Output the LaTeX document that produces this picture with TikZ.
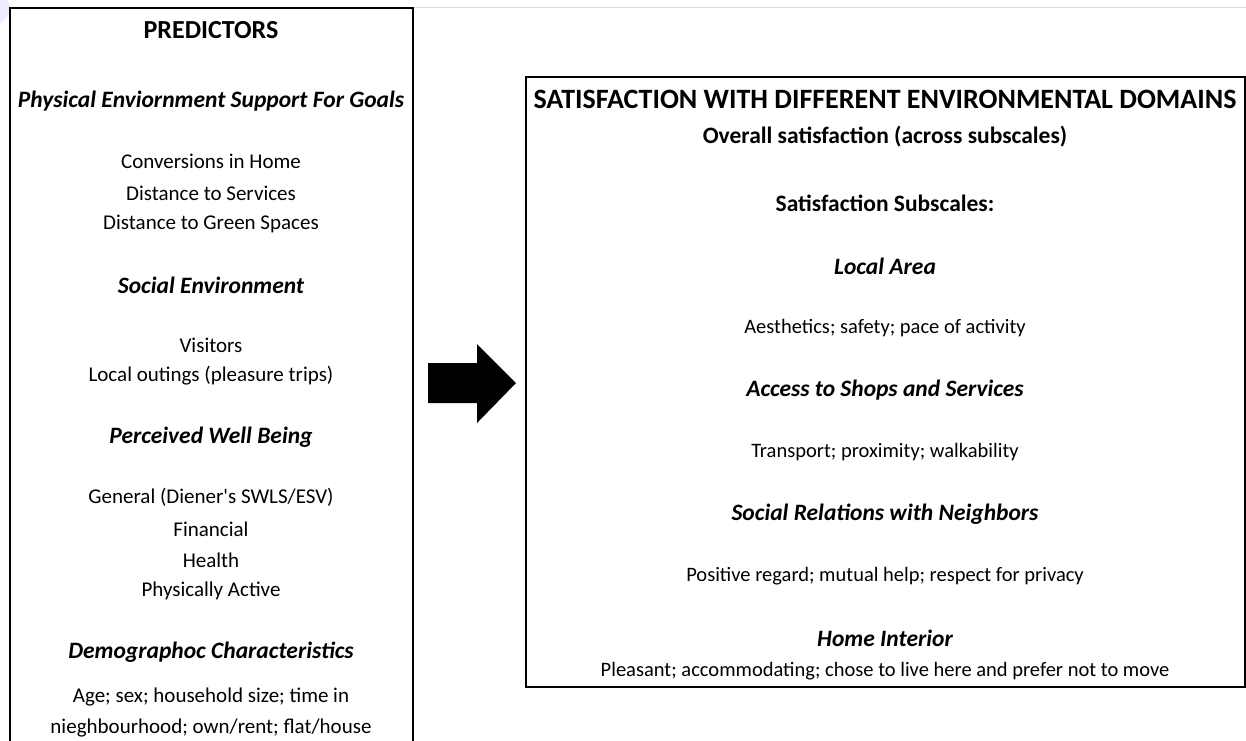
\documentclass[tikz,border=0pt]{standalone}
\usepackage{fontspec}
\setmainfont{Carlito}
\begin{document}
\begin{tikzpicture}[x=1pt,y=-1pt,
  boxline/.style={line width=2pt,draw=black},
  body/.style={inner sep=0pt,anchor=center,font=\fontsize{21}{31}\selectfont,align=center},
  rbody/.style={inner sep=0pt,anchor=center,font=\fontsize{20.5}{24}\selectfont,align=center},
  head/.style={inner sep=0pt,anchor=center,font=\fontsize{23.5}{27}\selectfont\bfseries\itshape},
  bold/.style={inner sep=0pt,anchor=center,font=\fontsize{23.5}{27}\selectfont\bfseries},
  title/.style={inner sep=0pt,anchor=center,font=\fontsize{28}{32}\selectfont\bfseries}]
\useasboundingbox (0,0) rectangle (1246,740);
\fill[white] (0,0) rectangle (1246,740);
% faint artifact top-left
\fill[blue!7] (-6,8) circle (16);
% faint gray line at top
\draw[gray!30,line width=1pt] (412,7.5) -- (1246,7.5);
% left box (open at bottom)
\coordinate (lbl) at (10,742);
\coordinate (ltl) at (10,7.5);
\coordinate (ltr) at (412.5,7.5);
\coordinate (lbr) at (412.5,742);
\draw[boxline] (lbl) -- (ltl) -- (ltr) -- (lbr);
% right box
\draw[boxline] (526,77) rectangle (1244.5,686.5);
% arrow
\fill[black] (428,363) -- (477,363) -- (477,344) -- (516,383) -- (477,423) -- (477,403) -- (428,403) -- cycle;

% left column
\node[title,font=\fontsize{26}{30}\selectfont\bfseries] (pred) at (211,30) {PREDICTORS};
\node[head] (h1) at (211,101) {Physical Enviornment Support For Goals};
\node[body] (l1) at (211,161) {Conversions in Home};
\node[body] (l2) at (211,193) {Distance to Services};
\node[body] (l3) at (211,224) {Distance to Green Spaces};
\node[head] (h2) at (211,285) {Social Environment};
\node[body] (l4) at (211,345) {Visitors};
\node[body] (l5) at (211,376) {Local outings (pleasure trips)};
\node[head] (h3) at (211,437) {Perceived Well Being};
\node[body] (l6) at (211,497) {General (Diener\textquotesingle s SWLS/ESV)};
\node[body] (l7) at (211,529) {Financial};
\node[body] (l8) at (211,560) {Health};
\node[body] (l9) at (211,591) {Physically Active};
\node[head] (h4) at (211,652) {Demographoc Characteristics};
\node[body] (l10) at (211,697) {Age; sex; household size; time in};
\node[body] (l11) at (211,728) {nieghbourhood; own/rent; flat/house};

% right column
\node[title] (sat) at (885,99) {SATISFACTION WITH DIFFERENT ENVIRONMENTAL DOMAINS};
\node[bold] (ov) at (885,137) {Overall satisfaction (across subscales)};
\node[bold] (sub) at (885,203) {Satisfaction Subscales:};
\node[head] (r1) at (885,266) {Local Area};
\node[rbody] (r1b) at (885,328) {Aesthetics; safety; pace of activity};
\node[head] (r2) at (885,390) {Access to Shops and Services};
\node[rbody] (r2b) at (885,452) {Transport; proximity; walkability};
\node[head] (r3) at (885,514) {Social Relations with Neighbors};
\node[rbody] (r3b) at (885,576) {Positive regard; mutual help; respect for privacy};
\node[head] (r4) at (885,638) {Home Interior};
\node[rbody] (r4b) at (885,671) {Pleasant; accommodating; chose to live here and prefer not to move};
\end{tikzpicture}
\end{document}
